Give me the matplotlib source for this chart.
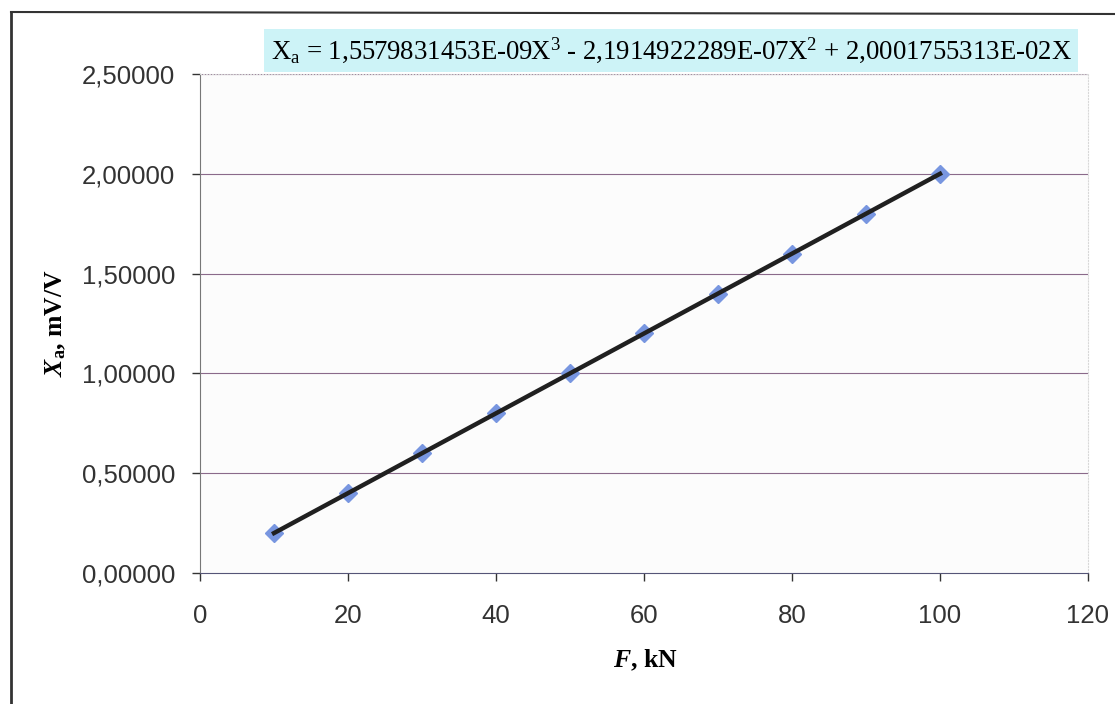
import matplotlib
matplotlib.use('Agg')
import matplotlib.pyplot as plot
from matplotlib.lines import Line2D

# data
force = [10, 20, 30, 40, 50, 60, 70, 80, 90, 100]
signal = [0.20, 0.40, 0.60, 0.80, 1.00, 1.20, 1.40, 1.60, 1.80, 2.00]
xticks = [0, 20, 40, 60, 80, 100, 120]
yticks = [0.0, 0.5, 1.0, 1.5, 2.0, 2.5]

plot.rcParams['mathtext.fontset'] = 'custom'
plot.rcParams['mathtext.rm'] = 'Liberation Serif'
plot.rcParams['mathtext.it'] = 'Liberation Serif:italic'
plot.rcParams['mathtext.bf'] = 'Liberation Serif:bold'
plot.rcParams['mathtext.bfit'] = 'Liberation Serif:italic:bold'

fig = plot.figure(figsize=(11.15, 7.04), dpi=100)
ax = fig.add_axes([200/1115, 131/704, 888/1115, 499/704])
ax.set_facecolor('#fcfcfc')

for y in yticks[1:]:
    ax.axhline(y, color='#8a6a8a', lw=0.8, zorder=1)

ax.plot(force, signal, color='#202020', lw=3.2, zorder=3)
ax.plot(force, signal, linestyle='none', marker='D', ms=9, color='#7896e0',
        markeredgecolor='#7896e0', zorder=2)

ax.set_xlim(0, 120)
ax.set_ylim(0, 2.5)
ax.set_xticks(xticks)
ax.set_yticks(yticks)
ax.set_xticklabels([str(t) for t in xticks])
ax.set_yticklabels([('%.5f' % t).replace('.', ',') for t in yticks])
ax.tick_params(labelsize=18.5, colors='#333333', length=6, width=1, pad=12)
ax.tick_params(axis='x', pad=16)
for lab in ax.get_xticklabels() + ax.get_yticklabels():
    lab.set_family('Liberation Sans')

for s in ['top', 'right']:
    ax.spines[s].set_color('#d8d8d8')
    ax.spines[s].set_linestyle(':')
ax.spines['left'].set_color('#777777')
ax.spines['bottom'].set_color('#555577')

ax.set_xlabel(r'$\mathbfit{F}$, kN', family='Liberation Serif', fontweight='bold',
              fontsize=18.5)
ax.xaxis.set_label_coords(0.502, -0.174)
ax.xaxis.label.set_va('center')
ax.set_ylabel(r'$\mathbfit{X}_\mathbf{a}$, mV/V', family='Liberation Serif',
              fontweight='bold', fontsize=18.5)
ax.yaxis.set_label_coords(-144/888, 0.5)
ax.yaxis.label.set_va('center')

fig.text(671/1115, 1 - 50.5/704,
         r'X$_\mathrm{a}$ = 1,5579831453E-09X$^3$ - 2,1914922289E-07X$^2$ + 2,0001755313E-02X',
         family='Liberation Serif', fontsize=19.3, ha='center', va='center',
         bbox=dict(facecolor='#cdf3f7', edgecolor='none', pad=5))

# outer frame of the scanned page
fig.add_artist(Line2D([11/1115, 11/1115], [0, 1 - 12/704], transform=fig.transFigure,
                      color='#333333', lw=2))
fig.add_artist(Line2D([11/1115, 1], [1 - 12/704, 1 - 14/704], transform=fig.transFigure,
                      color='#333333', lw=1.5))

plot.savefig('out.png', dpi=100)
